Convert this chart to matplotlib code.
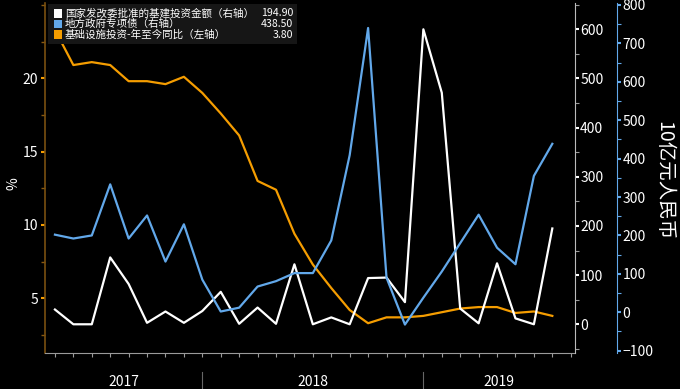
import matplotlib
matplotlib.use('Agg')
import matplotlib.pyplot as plt
from matplotlib.patches import Rectangle
from matplotlib.ticker import MultipleLocator, NullFormatter

plt.rcParams['font.family'] = ['Noto Sans CJK SC', 'DejaVu Sans']

# monthly points, Apr 2017 .. Jul 2019
months = ['2017-04', '2017-05', '2017-06', '2017-07', '2017-08', '2017-09', '2017-10',
          '2017-11', '2017-12', '2018-01', '2018-02', '2018-03', '2018-04', '2018-05',
          '2018-06', '2018-07', '2018-08', '2018-09', '2018-10', '2018-11', '2018-12',
          '2019-01', '2019-02', '2019-03', '2019-04', '2019-05', '2019-06', '2019-07']

# NDRC approved infrastructure investment (right axis, white)
ndrc = [30, 0, 0, 136, 82, 3, 26, 3, 27, 66, 1, 34, 1, 122,
        0, 14, 0, 94, 95, 45, 600, 471, 32, 2, 124, 12, 0, 194.9]
# local government special bonds (right outer axis, blue)
bonds = [202, 192, 200, 333, 192, 252, 132, 229, 85, 2, 12, 67, 81, 102,
         102, 187, 409, 740, 90, -32, 38, 106, 180, 254, 168, 125, 355, 438.5]
# infrastructure investment YTD yoy (left axis, orange)
infra = [23.3, 20.9, 21.1, 20.9, 19.8, 19.8, 19.6, 20.1, 19.0, 17.6, 16.1, 13.0, 12.4, 9.4,
         7.3, 5.7, 4.2, 3.3, 3.7, 3.7, 3.8, 4.05, 4.3, 4.4, 4.4, 4.0, 4.1, 3.8]

legend_labels = ['国家发改委批准的基建投资金额（右轴）', '地方政府专项债（右轴）', '基础设施投资-年至今同比（左轴）']
legend_values = ['194.90', '438.50', '3.80']

years = ['2017', '2018', '2019']
year_bounds = [8, 20]  # index of December points

WHITE = '#ffffff'
BLUE = '#62a8ea'
ORANGE = '#f59d00'
GREY = '#9a9a9a'

W, H = 680, 389
fig = plt.figure(figsize=(W / 100, H / 100), dpi=100, facecolor='black')
ax = fig.add_axes([45 / W, 1 - 352.7 / H, (574.6 - 45) / W, (352.7 - 3) / H])
ax.set_facecolor('black')
ax2 = ax.twinx()
ax3 = ax.twinx()

x = list(range(len(months)))
xmin, xmax = -0.54, 28.21

# left axis
ax.plot(x, infra, color=ORANGE, lw=1.6, zorder=3)
ax.set_xlim(xmin, xmax)
ax.set_ylim(1.29, 25.13)
ax.yaxis.set_major_locator(MultipleLocator(5))
ax.yaxis.set_minor_locator(MultipleLocator(2.5))
ax.tick_params(axis='y', which='major', colors=ORANGE, labelcolor='white', length=3, width=1.5,
               labelsize=10, pad=2)
ax.tick_params(axis='y', which='minor', colors='#8a5a10', length=3, width=1)
ax.set_yticks([5, 10, 15, 20])
fig.text(13 / W, 1 - 184 / H, '%', color='white', fontsize=10, rotation=90, ha='center', va='center')

ax.xaxis.set_major_locator(MultipleLocator(1))
ax.xaxis.set_major_formatter(NullFormatter())
ax.tick_params(axis='x', which='major', colors=GREY, length=3, width=0.8)

for s in ['top', 'right']:
    ax.spines[s].set_visible(False)
ax.spines['left'].set_color('#7a5010')
ax.spines['left'].set_linewidth(1.2)
ax.spines['bottom'].set_color(GREY)

# inner right axis (white)
ax2.plot(x, ndrc, color=WHITE, lw=1.6, zorder=3)
ax2.set_yticks(range(0, 700, 100))
ax2.set_ylim(-57.8, 653.5)
ax2.yaxis.set_minor_locator(MultipleLocator(50))
ax2.tick_params(axis='y', which='major', colors=WHITE, labelcolor='white', length=3, width=1.5,
                labelsize=10, pad=1)
ax2.tick_params(axis='y', which='minor', colors=GREY, length=3, width=0.8)
for s in ['top', 'left', 'bottom']:
    ax2.spines[s].set_visible(False)
ax2.spines['right'].set_color('#bbbbbb')

# outer right axis (blue)
ax3.plot(x, bonds, color=BLUE, lw=1.6, zorder=3)
ax3.spines['right'].set_position(('outward', 30.5))
ax3.set_yticks(range(-100, 900, 100))
ax3.set_ylim(-105.2, 805)
ax3.yaxis.set_minor_locator(MultipleLocator(50))
ax3.tick_params(axis='y', which='major', colors=BLUE, labelcolor='white', length=3, width=1.5,
                labelsize=10, pad=1)
ax3.tick_params(axis='y', which='minor', colors=BLUE, length=3, width=0.8)
for s in ['top', 'left', 'bottom']:
    ax3.spines[s].set_visible(False)
ax3.spines['right'].set_color(BLUE)
fig.text(664 / W, 1 - 181 / H, '10亿元人民币', color='white', fontsize=14, rotation=270,
         ha='center', va='center')

# year labels and separators under the axis
trans = ax.get_xaxis_transform()
for b in year_bounds:
    ax.plot([b, b], [-0.055, -0.11], color='#666666', lw=0.8, transform=trans, clip_on=False)
edges = [xmin] + year_bounds + [xmax]
for i, yr in enumerate(years):
    ax.text((edges[i] + edges[i + 1]) / 2, -0.065, yr, transform=trans, ha='center', va='top',
            color='white', fontsize=10)

# legend box
fig.patches.append(Rectangle((48 / W, 1 - 44 / H), (297 - 48) / W, 40 / H, transform=fig.transFigure,
                             facecolor='#161616', edgecolor='none', zorder=5))
colors = [WHITE, BLUE, ORANGE]
for i, (lab, val, c) in enumerate(zip(legend_labels, legend_values, colors)):
    yc = 13.5 + i * 10.5
    fig.patches.append(Rectangle((54 / W, 1 - (yc + 4.2) / H), 8.4 / W, 8.4 / H, transform=fig.transFigure,
                                 facecolor=c, edgecolor='none', zorder=6))
    fig.text(65 / W, 1 - yc / H, lab, color='white', fontsize=7.6, va='center', ha='left', zorder=7)
    fig.text(293 / W, 1 - yc / H, val, color='white', fontsize=7.6, va='center', ha='right', zorder=7)

fig.savefig('out.png', dpi=100, facecolor='black')
